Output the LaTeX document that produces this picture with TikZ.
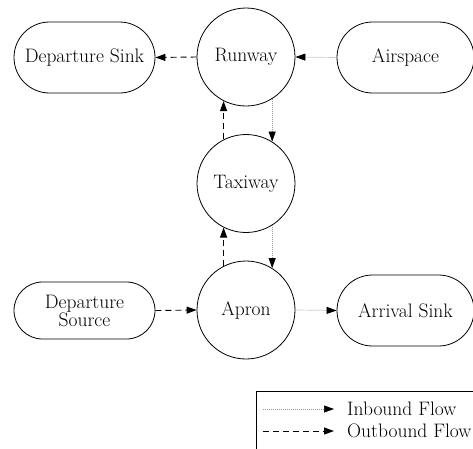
\documentclass[tikz,border=0pt]{standalone}
\usetikzlibrary{shapes.misc,arrows.meta}
\begin{document}
\begin{tikzpicture}[x=1pt,y=-1pt,
  every node/.style={font=\fontsize{19.5}{20}\selectfont},
  hub/.style={circle, draw, line width=0.8pt, minimum size=98pt, inner sep=0pt},
  term/.style={rounded rectangle, draw, line width=0.8pt, minimum width=141pt,
    minimum height=71pt, inner sep=0pt, align=center},
  tip/.style={-{Triangle[length=10pt,width=7pt,color=black]}},
  inflow/.style={tip, draw=gray!80, line width=0.7pt, dash pattern=on 1pt off 1pt},
  outflow/.style={tip, draw=black, line width=0.9pt, dash pattern=on 6pt off 4pt},
  legendtext/.style={anchor=west, inner sep=0pt}
]
\useasboundingbox (0,0) rectangle (473,448);
\clip (0,0) rectangle (473,448);

% flow stages
\node[hub] (runway) at (246,57) {Runway};
\node[hub] (taxiway) at (246,183.5) {Taxiway};
\node[hub] (apron) at (246,310) {Apron};

% sources and sinks
\node[term] (depsink) at (84.5,57.5) {Departure Sink};
\node[term, minimum width=137pt] (airspace) at (405.5,57.5) {Airspace};
\node[term, minimum height=57pt] (depsrc) at (84.5,310.5) {Departure\\[-2pt]Source};
\node[term, minimum width=137pt] (arrsink) at (405.5,310.5) {Arrival Sink};

% inbound movements
\draw[inflow] (airspace.west) -- (runway.east);
\draw[inflow] (runway.302) -- (taxiway.58);
\draw[inflow] (taxiway.302) -- (apron.58);
\draw[inflow] (apron.east) -- (arrsink.west);

% outbound movements
\draw[outflow] (depsrc.east) -- (apron.west);
\draw[outflow] (apron.117) -- (taxiway.243);
\draw[outflow] (taxiway.117) -- (runway.243);
\draw[outflow] (runway.west) -- (depsink.east);

% legend
\draw[line width=0.8pt] (256,391) rectangle (490,470);
\coordinate (ia) at (263,409);
\coordinate (ib) at (334,409);
\coordinate (oa) at (263,431);
\coordinate (ob) at (334,431);
\draw[inflow] (ia) -- (ib);
\draw[outflow] (oa) -- (ob);
\node[legendtext] (inlbl) at (347,409) {Inbound Flow};
\node[legendtext] (outlbl) at (347,431) {Outbound Flow};
\end{tikzpicture}
\end{document}
